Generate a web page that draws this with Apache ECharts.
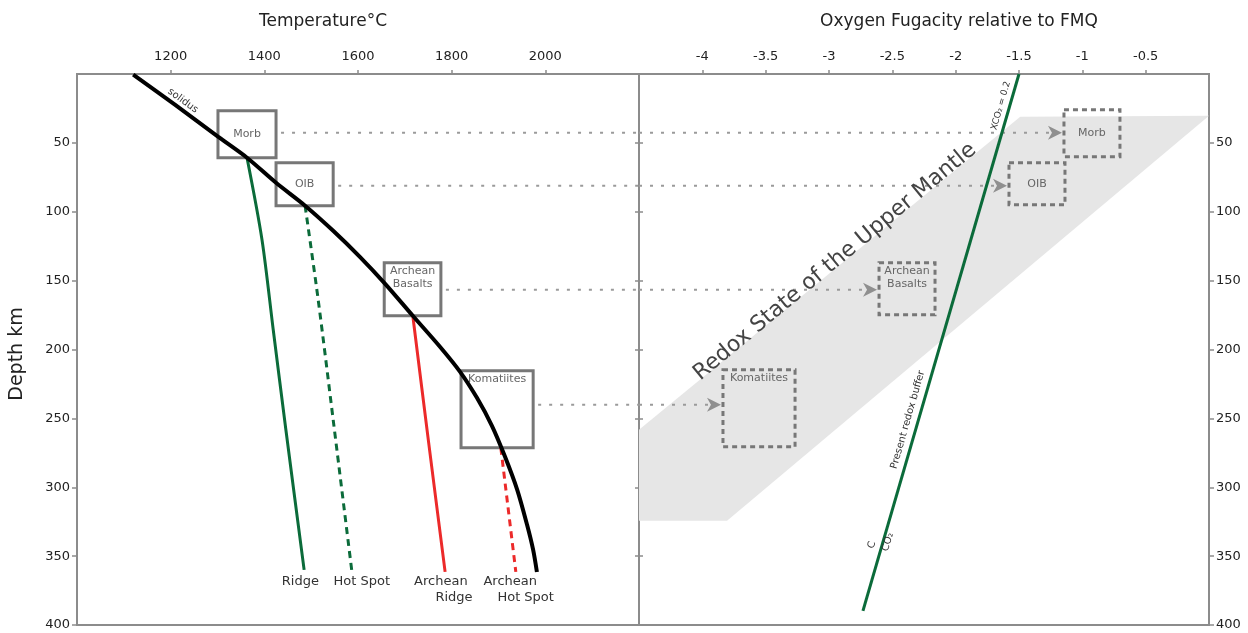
<!DOCTYPE html>
<html>
<head>
<meta charset="utf-8">
<title>Redox state of the upper mantle</title>
<script src="https://cdn.jsdelivr.net/npm/echarts@6.0.0/dist/echarts.min.js"></script>
<style>
html, body { margin: 0; padding: 0; background: #fff; }
#main { width: 1248px; height: 633px; }
</style>
</head>
<body>
<div id="main"></div>
<script>
// axes
var tempMin = 1000, tempMax = 2200;
var fmqMin = -4.5, fmqMax = 0;
var depthMin = 0, depthMax = 400;

// left panel: temperature (°C) against depth (km)
var solidusT = [1120, 1209, 1301, 1363, 1425, 1487, 1547, 1604, 1658, 1717, 1775, 1818, 1854, 1886, 1914, 1940, 1961, 1974, 1982];
var solidusD = [0.5, 22.3, 45.5, 60.8, 79, 95.6, 113.8, 132.7, 152.3, 175.5, 198, 216.2, 235.1, 255.4, 277.9, 301.9, 327.3, 345.5, 361.5];
var ridgeT = [1363, 1395, 1419, 1446, 1485];
var ridgeD = [60.8, 120.3, 185.7, 258.3, 360];
var hotSpotT = [1487, 1515, 1547, 1587];
var hotSpotD = [95.6, 163.9, 251, 361.4];
var archRidgeT = [1717, 1751, 1786];
var archRidgeD = [175.5, 268, 361.4];
var archHotT = [1905, 1937];
var archHotD = [271.4, 361.4];

// melting regions (left boxes)
var meltNames = ['Morb', 'OIB', 'Archean\nBasalts', 'Komatiites'];
var meltT0 = [1301, 1425, 1656, 1820];
var meltT1 = [1425, 1547, 1777, 1974];
var meltD0 = [26.6, 64.4, 137, 215.4];
var meltD1 = [60.8, 95.6, 175.5, 271.4];
var linkD = [42.6, 81.1, 156.6, 240.1];

// oxygen fugacity of the same sources (right boxes)
var fo2Lo = [-1.145, -1.579, -2.605, -3.837];
var fo2Hi = [-0.703, -1.137, -2.163, -3.268];
var fo2D0 = [25.9, 64.4, 137, 214.7];
var fo2D1 = [60, 94.9, 174.8, 270.6];

// redox band of the upper mantle and the present redox buffer
var bandX = [-4.5, -1.49, 0, -3.805, -4.5];
var bandD = [258.3, 31, 30.3, 324.4, 324.4];
var bufferX = [-1.5, -2.732];
var bufferD = [0, 389.8];

var chart = echarts.init(document.getElementById('main'));
var FONT = '"DejaVu Sans", Verdana, sans-serif';
var GRAY = '#8c8c8c', INK = '#222', GREEN = '#0b6b3a', RED = '#ec2a2a';

function pairs(xs, ys) {
  return xs.map(function (x, i) { return [x, ys[i]]; });
}

function path(gi, xs, ys, color, width, dash, smooth) {
  return {
    type: 'line', xAxisIndex: gi, yAxisIndex: gi, data: pairs(xs, ys),
    showSymbol: false, symbol: 'none', smooth: smooth || 0, z: 6, silent: true,
    lineStyle: { color: color, width: width, type: dash || 'solid' }
  };
}

function boxes(gi, x0, x1, d0, d1, dashed) {
  return {
    type: 'custom', xAxisIndex: gi, yAxisIndex: gi, z: 5, silent: true,
    data: meltNames.map(function (n, i) { return [x0[i], d0[i], x1[i], d1[i]]; }),
    renderItem: function (params, api) {
      var name = meltNames[params.dataIndex];
      var a = api.coord([api.value(0), api.value(1)]);
      var b = api.coord([api.value(2), api.value(3)]);
      var atTop = name.indexOf('\n') >= 0 || name.length > 8;
      return {
        type: 'group',
        children: [{
          type: 'rect',
          shape: { x: a[0], y: a[1], width: b[0] - a[0], height: b[1] - a[1] },
          style: { fill: 'none', stroke: '#777', lineWidth: 3, lineDash: dashed ? [5, 4] : null }
        }, {
          type: 'text',
          x: (a[0] + b[0]) / 2,
          y: atTop ? a[1] + 2 : (a[1] + b[1]) / 2,
          style: {
            text: name, fill: '#666', fontSize: 11, fontFamily: FONT, lineHeight: 13,
            align: 'center', verticalAlign: atTop ? 'top' : 'middle'
          }
        }]
      };
    }
  };
}

function notes(gi, list) {
  return {
    type: 'custom', xAxisIndex: gi, yAxisIndex: gi, z: 8, silent: true,
    data: list.map(function (n) { return [n.x, n.d]; }),
    renderItem: function (params, api) {
      var n = list[params.dataIndex];
      var p = api.coord([api.value(0), api.value(1)]);
      return {
        type: 'text', x: p[0], y: p[1], rotation: (n.rot || 0) * Math.PI / 180,
        style: {
          text: n.t, fill: n.c || '#333', fontSize: n.s || 13, fontFamily: FONT,
          align: 'center', verticalAlign: 'middle'
        }
      };
    }
  };
}

var leftNotes = [
  { t: 'solidus', x: 1226, d: 19.4, rot: -36, s: 10 },
  { t: 'Ridge', x: 1477, d: 368.7 },
  { t: 'Hot Spot', x: 1608, d: 368.7 },
  { t: 'Archean', x: 1777, d: 368.7 },
  { t: 'Ridge', x: 1805, d: 380.3 },
  { t: 'Archean', x: 1925, d: 368.7 },
  { t: 'Hot Spot', x: 1958, d: 380.3 }
];

var rightNotes = [
  { t: 'Redox State of the Upper Mantle', x: -2.953, d: 136.3, rot: 39.6, s: 22, c: '#444' },
  { t: 'XCO\u2082 = 0.2', x: -1.643, d: 23, rot: 74, s: 9 },
  { t: 'Present redox buffer', x: -2.377, d: 251, rot: 74, s: 10 },
  { t: 'C', x: -2.661, d: 341.8, rot: 74, s: 10 },
  { t: 'CO\u2082', x: -2.535, d: 339.7, rot: 74, s: 10 }
];

function plain(v) { return String(v); }

function depthAxis(gi, pos, labels, tickLen, inside) {
  return {
    gridIndex: gi, type: 'value', inverse: true, position: pos,
    min: depthMin, max: depthMax, interval: 50,
    axisLine: { show: true, onZero: false, lineStyle: { color: GRAY, width: 2 } },
    axisTick: { show: true, inside: !!inside, length: tickLen, lineStyle: { color: GRAY, width: 1.5 } },
    axisLabel: { show: labels, color: INK, fontSize: 13, fontFamily: FONT, margin: 7, showMinLabel: false, formatter: plain },
    splitLine: { show: false }
  };
}

function topAxis(gi, min, max, step) {
  return {
    gridIndex: gi, type: 'value', position: 'top', min: min, max: max, interval: step,
    axisLine: { show: true, onZero: false, lineStyle: { color: GRAY, width: 2 } },
    axisTick: { show: true, length: 4, lineStyle: { color: GRAY, width: 1.5 } },
    axisLabel: { color: INK, fontSize: 13, fontFamily: FONT, margin: 11, showMinLabel: false, showMaxLabel: false, formatter: plain },
    splitLine: { show: false }
  };
}

var option = {
  animation: false,
  backgroundColor: '#fff',
  grid: [
    { left: 77, right: 609, top: 74, bottom: 8, show: true, borderColor: GRAY, borderWidth: 2 },
    { left: 639, right: 39, top: 74, bottom: 8, show: true, borderColor: GRAY, borderWidth: 2 }
  ],
  xAxis: [topAxis(0, tempMin, tempMax, 200), topAxis(1, fmqMin, fmqMax, 0.5)],
  yAxis: [
    depthAxis(0, 'left', true, 5, false),
    depthAxis(1, 'right', true, 5, false),
    depthAxis(1, 'left', false, 4, true),
    depthAxis(0, 'right', false, 4, true)
  ],
  graphic: [
    { type: 'text', x: 323, y: 22, style: { text: 'Temperature°C', fill: INK, fontSize: 17, fontFamily: FONT, align: 'center', verticalAlign: 'middle' } },
    { type: 'text', x: 959, y: 22, style: { text: 'Oxygen Fugacity relative to FMQ', fill: INK, fontSize: 17, fontFamily: FONT, align: 'center', verticalAlign: 'middle' } },
    { type: 'text', x: 17, y: 354, rotation: Math.PI / 2, style: { text: 'Depth km', fill: INK, fontSize: 19, fontFamily: FONT, align: 'center', verticalAlign: 'middle' } }
  ],
  series: [
    // grey band
    {
      type: 'custom', xAxisIndex: 1, yAxisIndex: 1, z: 1, silent: true,
      data: [[bandX[0], bandD[0]]],
      renderItem: function (params, api) {
        var pts = bandX.map(function (x, i) { return api.coord([x, bandD[i]]); });
        return { type: 'polygon', shape: { points: pts }, style: { fill: '#e6e6e6' } };
      }
    },
    // dotted links, left part
    {
      type: 'custom', xAxisIndex: 0, yAxisIndex: 0, z: 4, silent: true,
      data: linkD.map(function (d, i) { return [meltT1[i], d]; }),
      renderItem: function (params, api) {
        var p = api.coord([api.value(0), api.value(1)]);
        var e = api.coord([tempMax, api.value(1)]);
        return {
          type: 'line', shape: { x1: p[0] + 5, y1: p[1], x2: e[0], y2: p[1] },
          style: { stroke: '#9a9a9a', lineWidth: 2, lineDash: [3, 8] }
        };
      }
    },
    // dotted links with arrows, right part
    {
      type: 'custom', xAxisIndex: 1, yAxisIndex: 1, z: 4, silent: true,
      data: linkD.map(function (d, i) { return [fo2Lo[i], d]; }),
      renderItem: function (params, api) {
        var p = api.coord([api.value(0), api.value(1)]);
        var s = api.coord([fmqMin, api.value(1)]);
        var tip = p[0] - 2, y = p[1];
        return {
          type: 'group',
          children: [{
            type: 'line', shape: { x1: s[0], y1: y, x2: tip - 12, y2: y },
            style: { stroke: '#9a9a9a', lineWidth: 2, lineDash: [3, 8] }
          }, {
            type: 'polygon',
            shape: { points: [[tip, y], [tip - 14, y - 7], [tip - 10, y], [tip - 14, y + 7]] },
            style: { fill: '#8f8f8f' }
          }]
        };
      }
    },
    boxes(0, meltT0, meltT1, meltD0, meltD1, false),
    boxes(1, fo2Lo, fo2Hi, fo2D0, fo2D1, true),
    path(0, ridgeT, ridgeD, GREEN, 3, 'solid', 0.3),
    path(0, hotSpotT, hotSpotD, GREEN, 3, [7, 5], 0.3),
    path(0, archRidgeT, archRidgeD, RED, 3, 'solid', 0.3),
    path(0, archHotT, archHotD, RED, 3, [7, 5], 0),
    path(0, solidusT, solidusD, '#000', 4, 'solid', 0.3),
    path(1, bufferX, bufferD, GREEN, 3, 'solid', 0),
    notes(0, leftNotes),
    notes(1, rightNotes)
  ]
};

chart.setOption(option);
</script>
</body>
</html>
